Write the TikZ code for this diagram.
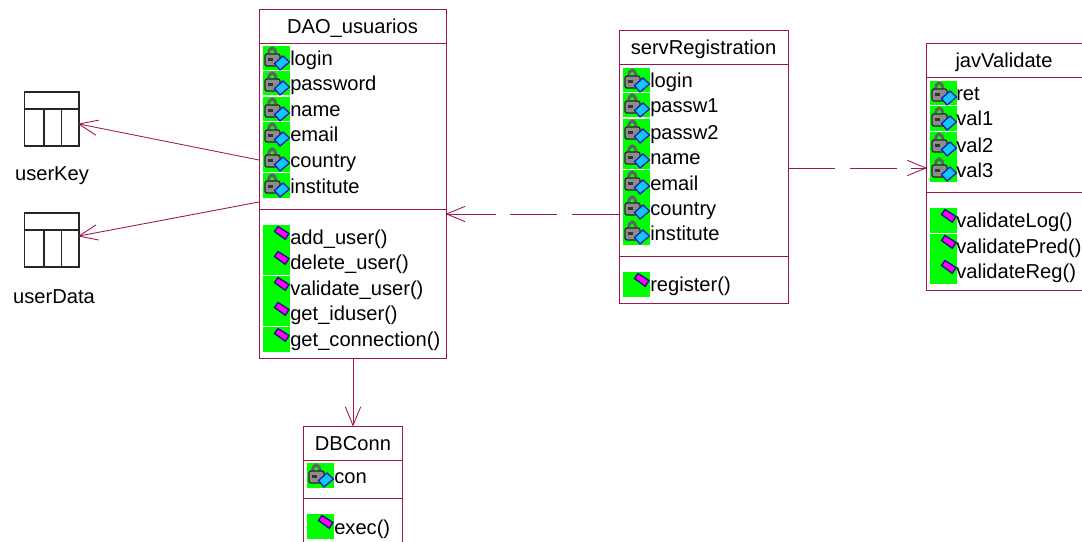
\documentclass[tikz,border=0pt]{standalone}
\usepackage{fontspec}
\setmainfont{Liberation Sans}
\usetikzlibrary{arrows.meta}
\definecolor{umlc}{HTML}{9E1550}
\definecolor{icong}{HTML}{00FF00}
\definecolor{iconm}{HTML}{FF00FF}
\definecolor{iconc}{HTML}{10C8FF}
\definecolor{iconb}{HTML}{2020B0}
\pgfdeclarearrow{
  name=OpenV,
  defaults={length=14pt,width=11.5pt},
  setup code={
    \pgfarrowssettipend{0pt}
    \pgfarrowssetbackend{-\pgfarrowlength}
    \pgfarrowssetlineend{-0.3pt}
    \pgfarrowssavethe\pgfarrowlength
    \pgfarrowssavethe\pgfarrowwidth
  },
  drawing code={
    \pgfsetdash{}{0pt}
    \pgfsetlinewidth{0.65pt}
    \pgfpathmoveto{\pgfqpoint{-\pgfarrowlength}{.5\pgfarrowwidth}}
    \pgfpathlineto{\pgfpointorigin}
    \pgfpathlineto{\pgfqpoint{-\pgfarrowlength}{-.5\pgfarrowwidth}}
    \pgfusepathqstroke
  },
  parameters={\the\pgfarrowlength,\the\pgfarrowwidth}
}
\tikzset{
  x=0.75pt,y=-0.75pt,
  classbox/.style={draw=umlc,line width=0.75pt,fill=white,inner sep=0pt,outer sep=0pt},
  rule/.style={draw=umlc,line width=0.75pt},
  txt/.style={inner sep=0pt,font=\fontsize{15.1pt}{18pt}\selectfont,text=black},
  member/.style={txt,anchor=base west},
  assoc/.style={draw=umlc,line width=0.65pt,-{OpenV}},
  dep/.style={assoc,dash pattern=on 35.3pt off 10.9pt},
  tablebox/.style={draw=black!85,line width=1pt,inner sep=0pt,outer sep=0pt},
  pics/attricon/.style={code={
    \fill[icong] (0,0) rectangle (27,24.5);
    \draw[line width=2.2pt,draw=black!62] (5.5,9) .. controls (5.5,-0.5) and (13,-0.5) .. (13,9);
    \fill[draw=black!85,line width=0.9pt,fill=black!45,rounded corners=1.5pt] (2,8) rectangle (17,20);
    \fill[black!80] (5,12) rectangle (10,15);
    \fill[draw=iconb,line width=1pt,fill=iconc] (20,10) -- (26.5,16) -- (17,24) -- (11.5,17.5) -- cycle;
  }},
  pics/opicon/.style={code={
    \fill[icong] (0,0) rectangle (27,24.5);
    \fill[draw=iconb!70!black,line width=1pt,fill=iconm] (15,1.5) -- (26,8.5) -- (22.3,14.3) -- (11.5,6.5) -- cycle;
  }},
}
\begin{document}
\begin{tikzpicture}
\useasboundingbox (0,0) rectangle (1082,542);
\clip (0,0) rectangle (1082,542);
% classes
\path[classbox] (259,10) rectangle (446,358);
\node[txt] (daoT) at (352.5,28) {DAO\_usuarios};
\draw[rule] (259,44) -- (446,44) (259,209) -- (446,209);
\coordinate (daoW1) at (259,160); \coordinate (daoW2) at (259,202);
\coordinate (daoE) at (446.5,214); \coordinate (daoS) at (353,358);

\path[classbox] (619,31) rectangle (788,303);
\node[txt] (srvT) at (703.5,49) {servRegistration};
\draw[rule] (619,65) -- (788,65) (619,256) -- (788,256);
\coordinate (srvW) at (619,214); \coordinate (srvE) at (788,168);

\path[classbox] (926,44) rectangle (1090,290);
\node[txt] (javT) at (1004,62) {javValidate};
\draw[rule] (926,78) -- (1090,78) (926,192) -- (1090,192);
\coordinate (javW) at (926,168);

\path[classbox] (303,426) rectangle (402,545);
\node[txt] (dbT) at (353,444) {DBConn};
\draw[rule] (303,460) -- (402,460) (303,498) -- (402,498);
\coordinate (dbN) at (353,425.5);

% members
\foreach \n/\t/\y in {a1/login/46,a2/password/71,a3/name/97,a4/email/122,a5/country/147,a6/institute/173}{
  \pic at (263,\y) {attricon};
  \node[member] (\n) at (290,\y+20) {\t};
}
\foreach \n/\t/\y in {m1/add\_user()/225,m2/delete\_user()/250,m3/validate\_user()/276,m4/get\_iduser()/301,m5/get\_connection()/327}{
  \pic at (263,\y) {opicon};
  \node[member] (\n) at (290,\y+19) {\t};
}
\foreach \n/\t/\y in {b1/login/68,b2/passw1/93,b3/passw2/119,b4/name/144,b5/email/170,b6/country/195,b7/institute/220}{
  \pic at (623,\y) {attricon};
  \node[member] (\n) at (650,\y+20) {\t};
}
\pic at (623,272) {opicon};
\node[member] (b8) at (650,291) {register()};
\foreach \n/\t/\y in {c1/ret/81,c2/val1/106,c3/val2/132,c4/val3/157}{
  \pic at (930,\y) {attricon};
  \node[member] (\n) at (956,\y+20) {\t};
}
\foreach \n/\t/\y in {d1/validateLog()/208,d2/validatePred()/234,d3/validateReg()/259}{
  \pic at (930,\y) {opicon};
  \node[member] (\n) at (956,\y+19) {\t};
}
\pic at (307,463) {attricon};
\node[member] (e1) at (334,483) {con};
\pic at (307,514) {opicon};
\node[member] (e2) at (334,534) {exec()};

% tables
\draw[tablebox,fill=white] (24.5,92) rectangle (79,146);
\draw[tablebox] (24.5,109) -- (79,109) (44,109) -- (44,146) (61.5,109) -- (61.5,146);
\coordinate (ukE) at (79,124);
\node[txt] (ukT) at (52,176) {userKey};
\draw[tablebox,fill=white] (24.5,213) rectangle (79,267);
\draw[tablebox] (24.5,230) -- (79,230) (44,230) -- (44,267) (61.5,230) -- (61.5,267);
\coordinate (udE) at (79,236);
\node[txt] (udT) at (54,297) {userData};

% connectors
\draw[assoc] (daoW1) -- (ukE);
\draw[assoc] (daoW2) -- (udE);
\draw[assoc] (daoS) -- (dbN);
\draw[dep] (srvW) -- (daoE);
\draw[dep] (srvE) -- (javW);
\end{tikzpicture}
\end{document}
